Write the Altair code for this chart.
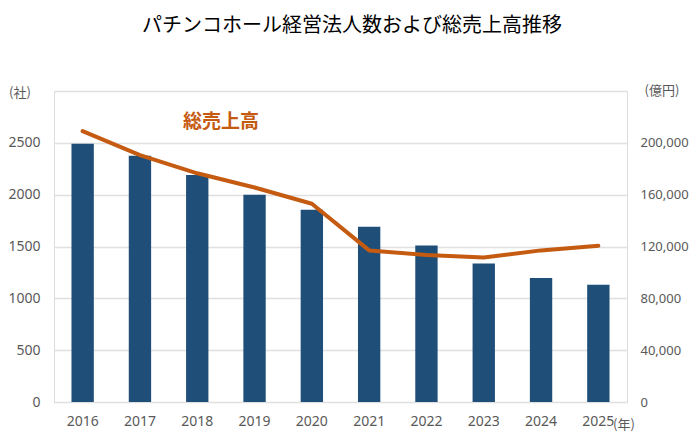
import altair as alt
import pandas as pd

years = ["2016", "2017", "2018", "2019", "2020", "2021", "2022", "2023", "2024", "2025"]
corps = [2490, 2375, 2190, 2000, 1855, 1690, 1510, 1335, 1195, 1130]
sales = [209000, 190500, 176500, 165500, 153000, 117000, 113500, 111500, 117000, 120500]

left_ticks = [0, 500, 1000, 1500, 2000, 2500, 3000]
right_ticks = [0, 40000, 80000, 120000, 160000, 200000, 240000]

df = pd.DataFrame({"year": years, "corps": corps, "sales": sales})

JP = "Noto Sans CJK JP"
NUM = "Noto Sans"
GRAY = "#595959"
BLUE = "#1F4E79"
ORANGE = "#C55A11"

xenc = alt.X(
    "year:N",
    sort=years,
    scale=alt.Scale(paddingInner=0.61, paddingOuter=0.305),
    axis=alt.Axis(title=None, labelAngle=0, domain=False, ticks=False,
                  labelPadding=12, labelFontSize=14, labelColor=GRAY, labelFont=NUM),
)

bars = alt.Chart(df).mark_bar(color=BLUE).encode(
    x=xenc,
    y=alt.Y("corps:Q", scale=alt.Scale(domain=[0, 3000], nice=False),
            axis=alt.Axis(title=None, values=left_ticks,
                          labelExpr="datum.value == 3000 ? '' : format(datum.value, 'd')",
                          grid=True, gridColor="#E0E0E0", gridWidth=1.3,
                          domain=False, ticks=False, labelPadding=14,
                          labelFontSize=14, labelColor=GRAY, labelFont=NUM)),
)

line = alt.Chart(df).mark_line(color=ORANGE, strokeWidth=4, strokeCap="round",
                               strokeJoin="round").encode(
    x=xenc,
    y=alt.Y("sales:Q", scale=alt.Scale(domain=[0, 240000], nice=False),
            axis=alt.Axis(title=None, orient="right", values=right_ticks,
                          labelExpr="datum.value == 240000 ? '' : format(datum.value, ',')",
                          grid=False, domain=False, ticks=False,
                          labelPadding=13, labelFontSize=13, labelColor=GRAY,
                          labelFont=NUM)),
)

def note(text, x, y, size=14, color=GRAY, weight="normal", align="center", font=JP):
    return alt.Chart(pd.DataFrame({"t": [text]})).mark_text(
        fontSize=size, color=color, fontWeight=weight, align=align,
        baseline="middle", font=font
    ).encode(text="t:N", x=alt.value(x), y=alt.value(y))

title = note("パチンコホール経営法人数および総売上高推移", 298, -65, size=20, color="#000000")
label_sales = note("総売上高", 167, 31, size=19, color=ORANGE, weight="bold")
unit_left = note("(社)", -34, 2, size=13)
unit_right = note("(億円)", 608, 0, size=13)
unit_year = note("(年)", 559, 334, size=13, align="left")

chart = alt.layer(bars, line, title, label_sales, unit_left, unit_right, unit_year).resolve_scale(
    y="independent"
).properties(
    width=573,
    height=311,
    autosize=alt.AutoSizeParams(type="none"),
    padding={"left": 46, "top": 83, "right": 65, "bottom": 37},
).configure_view(stroke=None).configure(background="white")

chart.save("out.html", embed_options={"renderer": "svg", "actions": False})
